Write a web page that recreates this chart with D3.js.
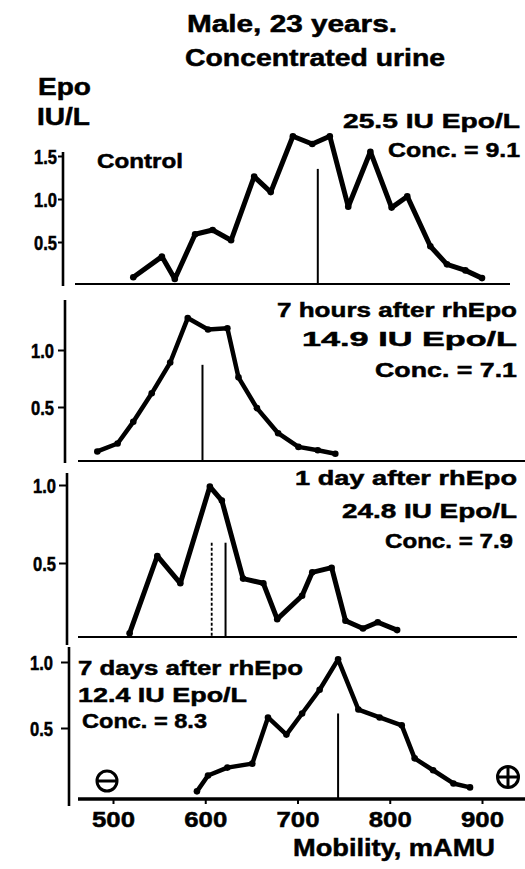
<!DOCTYPE html>
<html><head><meta charset="utf-8">
<script src="https://cdn.jsdelivr.net/npm/d3@7"></script>
<style>
body{margin:0;background:#fff}
svg{display:block}
text{font-family:"Liberation Sans",Arial,Helvetica,sans-serif;font-weight:bold;fill:#000;stroke:#000;stroke-width:0.5px}
</style>
</head><body>
<svg id="c" width="525" height="869"></svg>
<script>
// ---- data ----
const xTicks = [500, 600, 700, 800, 900];

const controlMobility = [522,553,567,589,608,628,653,671,695,716,735,755,779,802,819,844,862,882,900];
const controlEpo      = [0.09,0.33,0.07,0.59,0.64,0.52,1.26,1.08,1.73,1.64,1.73,0.91,1.55,0.90,1.03,0.45,0.24,0.17,0.08];

const h7Mobility = [483,505,522,542,562,581,603,624,636,656,679,701,722,741];
const h7Epo      = [0.11,0.18,0.37,0.62,0.89,1.28,1.18,1.19,0.76,0.49,0.27,0.15,0.12,0.09];

const d1Mobility = [518,548,573,605,618,641,663,678,705,716,737,752,771,787,808];
const d1Epo      = [0.05,0.545,0.37,0.99,0.90,0.40,0.37,0.14,0.29,0.44,0.47,0.13,0.08,0.12,0.07];

const d7Mobility = [591,603,624,651,668,688,705,724,744,766,789,813,827,847,869,887];
const d7Epo      = [0.02,0.14,0.20,0.23,0.58,0.45,0.61,0.79,1.02,0.64,0.58,0.52,0.27,0.18,0.08,0.05];

const markerMobility = [722, 597, 622, 744];
const markerEpo      = [1.35, 0.87, 0.63, 0.61];
const dottedMarkerMobility = [null, null, 607, null];
const dottedMarkerEpo      = [null, null, 0.63, null];

const yTickValues = [[0.5,1.0,1.5],[0.5,1.0],[0.5,1.0],[0.5,1.0]];

const panelLabels = [
  ["25.5  IU Epo/L", "Conc. = 9.1"],
  ["7 hours after rhEpo", "14.9  IU Epo/L", "Conc. = 7.1"],
  ["1  day after rhEpo", "24.8  IU Epo/L", "Conc. = 7.9"],
  ["7 days after rhEpo", "12.4 IU Epo/L", "Conc. = 8.3"]
];
const titleLines = ["Male, 23 years.", "Concentrated urine"];
const yUnitLines = ["Epo", "IU/L"];
const controlLabel = "Control";
const xAxisTitle = "Mobility, mAMU";

// ---- layout ----
const svg = d3.select("#c");
const x = d3.scaleLinear().domain([500, 900]).range([113, 482]);

const panels = [
  {xs: controlMobility, ys: controlEpo, zero: 285, unit: 86, axX: 63, axTop: 152, axBot: 286, base: 284, bx1: 75, bx2: 510, tSize: 5, tPad: 1, sw: 5},
  {xs: h7Mobility, ys: h7Epo, zero: 464, unit: 114, axX: 65, axTop: 300, axBot: 463, base: 461, bx1: 78, bx2: 525, tSize: 7, tPad: 4, sw: 4.5},
  {xs: d1Mobility, ys: d1Epo, zero: 641, unit: 156, axX: 67, axTop: 473, axBot: 645, base: 637, bx1: 78, bx2: 517, tSize: 8, tPad: 3, sw: 5},
  {xs: d7Mobility, ys: d7Epo, zero: 794, unit: 132, axX: 69, axTop: 647, axBot: 806, base: 799, bx1: 78, bx2: 525, tSize: 8, tPad: 8, sw: 4.5}
];

// text layout: [xStart, baseline, width, size]
const labelPos = [
  [[343,128,177,21],[388,157,132,21]],
  [[277,317,240,21],[302,346,215,21],[375,377,142,21]],
  [[295,485,222,21],[342,518,175,21],[385,548,128,21]],
  [[78,675,225,21],[78,702,169,21],[82,728,125,21]]
];

function txt(str, x0, y0, w, size) {
  return svg.append("text").attr("x", x0).attr("y", y0)
    .attr("font-size", size).attr("textLength", w)
    .attr("lengthAdjust", "spacingAndGlyphs").text(str);
}

// title + unit
txt(titleLines[0], 187, 32, 210, 24);
txt(titleLines[1], 185, 66, 260, 24);
txt(yUnitLines[0], 38, 95, 53, 24);
txt(yUnitLines[1], 37, 125, 53, 24);
txt(controlLabel, 97, 168, 86, 21);

panels.forEach((p, i) => {
  const y = d3.scaleLinear().domain([0, 1]).range([p.zero, p.zero - p.unit]);
  const g = svg.append("g");

  // baseline
  g.append("line").attr("x1", p.bx1).attr("x2", p.bx2)
    .attr("y1", p.base).attr("y2", p.base)
    .attr("stroke", "#000").attr("stroke-width", i === 3 ? 3.5 : 2.2);

  // y axis
  const ax = g.append("g").attr("transform", `translate(${p.axX},0)`)
    .call(d3.axisLeft(y).tickValues(yTickValues[i]).tickSize(p.tSize)
      .tickPadding(p.tPad).tickFormat(d3.format(".1f")));
  ax.attr("font-size", null).attr("font-family", null);
  ax.select(".domain").remove();
  ax.selectAll(".tick line").attr("stroke", "#000").attr("stroke-width", 2);
  ax.selectAll(".tick text").attr("font-size", 20)
    .attr("textLength", 23).attr("lengthAdjust", "spacingAndGlyphs")
    .attr("text-anchor", "start").attr("x", -(p.tSize + p.tPad + 23)).attr("dy", "0.36em");
  g.append("line").attr("x1", p.axX).attr("x2", p.axX)
    .attr("y1", p.axTop).attr("y2", p.axBot)
    .attr("stroke", "#000").attr("stroke-width", 2.6);

  // marker lines
  g.append("line").attr("x1", x(markerMobility[i])).attr("x2", x(markerMobility[i]))
    .attr("y1", y(markerEpo[i])).attr("y2", p.base)
    .attr("stroke", "#000").attr("stroke-width", 2);
  if (dottedMarkerMobility[i] !== null) {
    g.append("line").attr("x1", x(dottedMarkerMobility[i])).attr("x2", x(dottedMarkerMobility[i]))
      .attr("y1", y(dottedMarkerEpo[i])).attr("y2", p.base)
      .attr("stroke", "#000").attr("stroke-width", 1.8).attr("stroke-dasharray", "3,2");
  }

  // data line
  const pts = p.xs.map((v, k) => [v, p.ys[k]]);
  const line = d3.line().x(d => x(d[0])).y(d => y(d[1]));
  g.append("path").datum(pts).attr("d", line)
    .attr("fill", "none").attr("stroke", "#000").attr("stroke-width", p.sw)
    .attr("stroke-linejoin", "round").attr("stroke-linecap", "round");
  g.selectAll("circle.pt").data(pts).enter().append("circle")
    .attr("cx", d => x(d[0])).attr("cy", d => y(d[1])).attr("r", 3.3).attr("fill", "#000");

  // labels
  panelLabels[i].forEach((s, k) => {
    const lp = labelPos[i][k];
    txt(s, lp[0], lp[1], lp[2], lp[3]);
  });
});

// x axis (bottom panel)
const xa = svg.append("g").attr("transform", "translate(0,799)")
  .call(d3.axisBottom(x).tickValues(xTicks).tickSize(5).tickFormat(d3.format("d")));
xa.attr("font-size", null).attr("font-family", null);
xa.select(".domain").remove();
xa.selectAll(".tick line").attr("stroke", "#000").attr("stroke-width", 2);
xa.selectAll(".tick text").attr("font-size", 22)
  .attr("textLength", 43).attr("lengthAdjust", "spacingAndGlyphs")
  .attr("text-anchor", "start").attr("x", -21.5).attr("y", 28).attr("dy", 0);

txt(xAxisTitle, 293, 856, 202, 24);

// electrode symbols
const minus = svg.append("g").attr("transform", "translate(107,781)");
minus.append("circle").attr("r", 10).attr("fill", "none").attr("stroke", "#000").attr("stroke-width", 3);
minus.append("line").attr("x1", -9).attr("x2", 9).attr("stroke", "#000").attr("stroke-width", 3);
const plus = svg.append("g").attr("transform", "translate(508,777)");
plus.append("circle").attr("r", 10.5).attr("fill", "none").attr("stroke", "#000").attr("stroke-width", 3);
plus.append("line").attr("x1", -9).attr("x2", 9).attr("stroke", "#000").attr("stroke-width", 3);
plus.append("line").attr("y1", -9).attr("y2", 9).attr("stroke", "#000").attr("stroke-width", 3);
</script>
</body></html>
